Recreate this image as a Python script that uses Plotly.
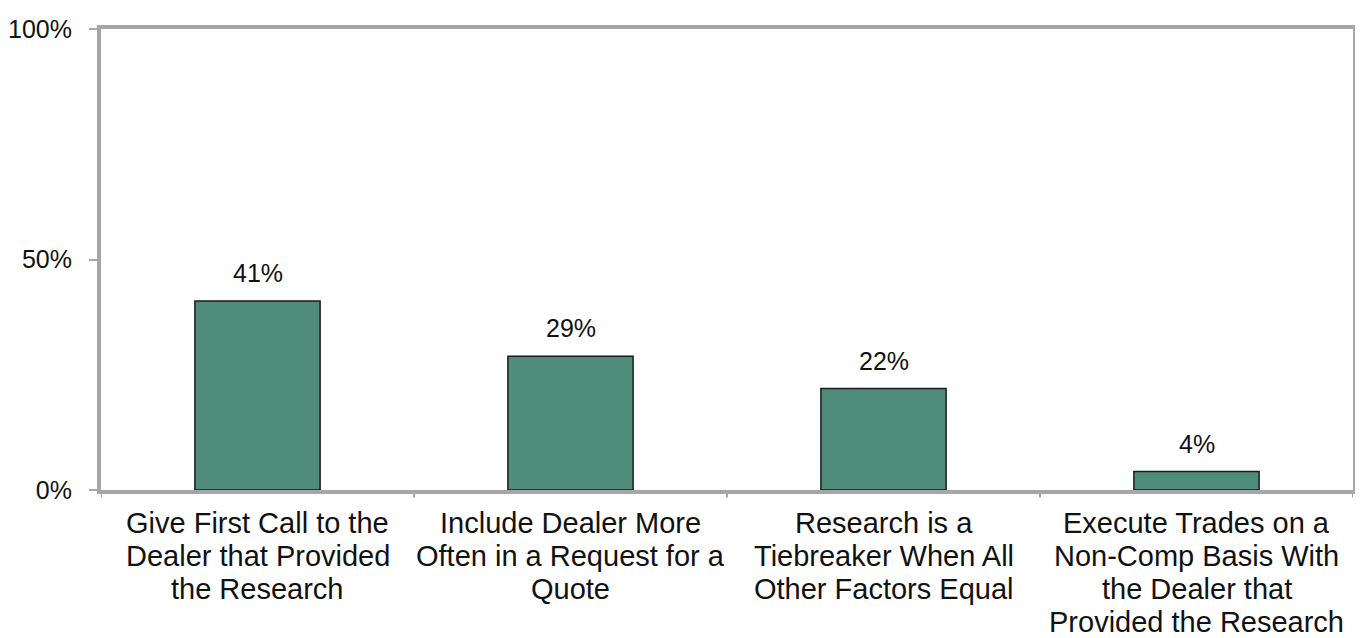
import plotly.graph_objects as go

categories = [
    "Give First Call to the<br>Dealer that Provided<br>the Research",
    "Include Dealer More<br>Often in a Request for a<br>Quote",
    "Research is a<br>Tiebreaker When All<br>Other Factors Equal",
    "Execute Trades on a<br>Non-Comp Basis With<br>the Dealer that<br>Provided the Research",
]
values = [41, 29, 22, 4]
labels = ["41%", "29%", "22%", "4%"]
y_ticks = [0, 50, 100]
y_tick_text = ["0%", "50%", "100%"]

FONT = "Liberation Sans, Arial, sans-serif"
GRAY = "#A6A6A6"
TXT = "#111111"

fig = go.Figure()
fig.add_trace(go.Bar(
    x=list(range(len(categories))),
    y=values,
    width=0.4,
    marker=dict(color="#4F8C7A", line=dict(color="#1a1a1a", width=1.5)),
    hoverinfo="skip",
))

for i, (v, t) in enumerate(zip(values, labels)):
    fig.add_annotation(x=i, y=v, text=t, showarrow=False, yanchor="bottom",
                       yshift=12, font=dict(family=FONT, size=25, color=TXT))

# category labels, one annotation per line for Excel-like tight line spacing
LINE_H = 33
for i, cat in enumerate(categories):
    for k, line in enumerate(cat.split("<br>")):
        fig.add_annotation(x=i, y=0, xref="x", yref="paper", text=line,
                           showarrow=False, yanchor="top", xanchor="center",
                           yshift=-15 - k * LINE_H,
                           font=dict(family=FONT, size=29, color=TXT))

fig.update_layout(
    width=1363, height=638,
    margin=dict(l=93, r=18, t=21, b=156),
    paper_bgcolor="white", plot_bgcolor="white",
    showlegend=False,
    font=dict(family=FONT, color=TXT),
)
fig.update_xaxes(
    range=[-0.5, 3.5],
    showticklabels=False, automargin=False,
    showline=True, linecolor=GRAY, linewidth=4, mirror=True,
    showgrid=False, zeroline=False,
)
fig.update_yaxes(
    range=[0, 100], automargin=False,
    tickmode="array", tickvals=y_ticks, ticktext=y_tick_text,
    showline=True, linecolor=GRAY, linewidth=4, mirror=True,
    showgrid=False, zeroline=False,
    ticks="outside", ticklen=8, tickcolor=GRAY, tickwidth=2,
    ticklabelstandoff=12,
    tickfont=dict(family=FONT, size=25, color=TXT),
)
# boundary ticks on x axis
for b in [-0.5, 0.5, 1.5, 2.5, 3.5]:
    fig.add_shape(type="line", xref="x", yref="paper", x0=b, x1=b, y0=0, y1=-0.016,
                  line=dict(color=GRAY, width=2))

fig.write_html("out.html")
